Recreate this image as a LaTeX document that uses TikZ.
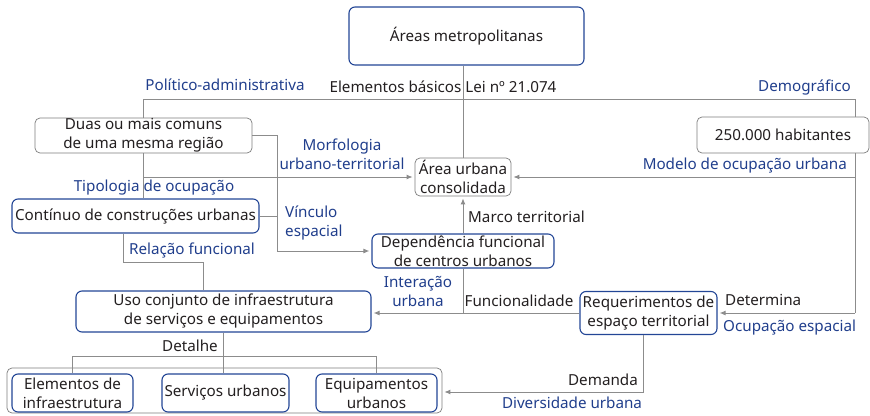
\documentclass[tikz,border=0pt]{standalone}
\usepackage{fontspec}
\setmainfont{Noto Sans}
\usetikzlibrary{arrows.meta}
\definecolor{txtblue}{RGB}{32,62,140}
\definecolor{boxblue}{RGB}{35,70,150}
\definecolor{lgray}{RGB}{140,140,140}
\definecolor{bgray}{RGB}{125,125,125}
\definecolor{txtblk}{RGB}{35,31,32}
\tikzset{
  bluebox/.style={draw=boxblue, line width=1.1pt, rounded corners=6pt, fill=white, align=center, inner sep=0pt, text=txtblk},
  graybox/.style={draw=bgray, line width=0.7pt, rounded corners=5pt, fill=white, align=center, inner sep=0pt, text=txtblk},
  conn/.style={draw=lgray, line width=1pt},
  arr/.style={conn, -{Latex[length=6pt,width=5pt]}, shorten >=2pt},
  lbl/.style={text=txtblue, align=center, inner sep=0pt},
  blk/.style={text=txtblk, align=center, inner sep=0pt},
}
\begin{document}
\begin{tikzpicture}[x=1pt, y=-1pt, font=\fontsize{15.2}{19}\selectfont]
\useasboundingbox (0,0) rectangle (870,415);
% group box
\node[graybox, minimum width=435pt, minimum height=45pt] (group) at (224.5,390.5) {};
% boxes
\node[bluebox, minimum width=235pt, minimum height=58pt] (metro) at (466.5,36) {Áreas metropolitanas};
\node[graybox, minimum width=217pt, minimum height=35pt] (duas) at (143.5,135.5) {Duas ou mais comuns\\de uma mesma região};
\node[graybox, minimum width=96pt, minimum height=38pt] (area) at (463,177) {Área urbana\\consolidada};
\node[graybox, minimum width=172pt, minimum height=36pt] (hab) at (783,135) {250.000 habitantes};
\node[bluebox, minimum width=247pt, minimum height=34pt] (cont) at (135.5,216) {Contínuo de construções urbanas};
\node[bluebox, minimum width=182pt, minimum height=34pt] (dep) at (463,251) {Dependência funcional\\de centros urbanos};
\node[bluebox, minimum width=295pt, minimum height=41pt] (uso) at (223.5,311.5) {Uso conjunto de infraestrutura\\de serviços e equipamentos};
\node[bluebox, minimum width=137pt, minimum height=43pt] (req) at (648.5,313) {Requerimentos de\\espaço territorial};
\node[bluebox, minimum width=121pt, minimum height=38pt] (elem) at (72.5,393) {Elementos de\\infraestrutura};
\node[bluebox, minimum width=127pt, minimum height=38pt] (serv) at (225.5,393) {Serviços urbanos};
\node[bluebox, minimum width=121pt, minimum height=38pt] (equip) at (376.5,393) {Equipamentos\\urbanos};
% helper coordinates
\coordinate (rtop) at (855,99);
\coordinate (vb) at (277,251);
\coordinate (c1) at (123,262);
\coordinate (c2) at (203,262);
\coordinate (dbus) at (0,356);
\coordinate (rs) at (643,392);
% connectors
\draw[conn] (metro.south -| area.north) -- (area.north);
\draw[conn] (duas.north) |- (rtop) -- (rtop |- hab.north);
\draw[conn] (duas.south) -- (duas.south |- cont.north);
\draw[arr] (duas.south |- area.west) -- (area.west);
\draw[arr] (duas.east) -| (vb) -- (dep.west);
\draw[conn] (cont.east) -- (cont.east -| vb);
\draw[conn] (cont.south -| c1) |- (c2) -- (c2 |- uso.north);
\draw[arr] (dep.north) -- (area.south);
\draw[conn] (dep.south) -- (dep.south |- req.west);
\draw[arr] (req.west) -- (uso.east |- req.west);
\draw[conn] (rtop |- hab.south) -- (rtop |- req.east);
\draw[arr] (rtop |- req.east) -- (req.east);
\draw[arr] (rtop |- area.east) -- (area.east);
\draw[conn] (uso.south) -- (uso.south |- serv.north);
\draw[conn] (elem.north |- dbus) -- (equip.north |- dbus);
\draw[conn] (elem.north |- dbus) -- (elem.north);
\draw[conn] (equip.north |- dbus) -- (equip.north);
\draw[arr] (req.south -| rs) |- (group.east |- rs);
% labels
\node[lbl] (l1) at (225,85) {Político-administrativa};
\node[blk] (l2) at (443,87) {Elementos básicos Lei nº 21.074};
\node[lbl, anchor=east] (l3) at (851,88) {Demográfico};
\node[lbl] (l4) at (342,154) {Morfologia\\urbano-territorial};
\node[lbl] (l5) at (154,188) {Tipologia de ocupação};
\node[lbl, anchor=east] (l6) at (847,166) {Modelo de ocupação urbana};
\node[lbl, anchor=west, align=left] (l7) at (285,223) {Vínculo\\espacial};
\node[lbl] (l8) at (192,251) {Relação funcional};
\node[blk, anchor=west] (l9) at (468,217) {Marco territorial};
\node[lbl] (l10) at (418,291) {Interação\\urbana};
\node[blk] (l11) at (519,301) {Funcionalidade};
\node[blk, anchor=west] (l12) at (725,300) {Determina};
\node[lbl, anchor=west] (l13) at (723,328) {Ocupação espacial};
\node[blk] (l14) at (190,346) {Detalhe};
\node[blk, anchor=east] (l15) at (638,380) {Demanda};
\node[lbl] (l16) at (572,403) {Diversidade urbana};
\end{tikzpicture}
\end{document}
